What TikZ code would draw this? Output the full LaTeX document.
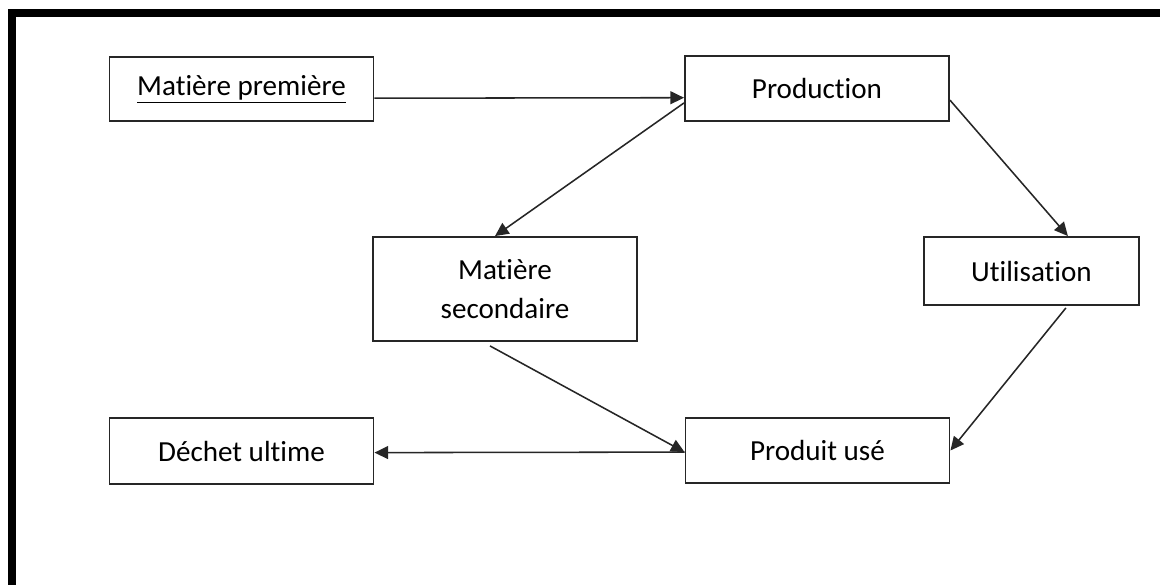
\documentclass[tikz,border=0pt]{standalone}
\usepackage{fontspec}
\setmainfont[Ligatures=NoCommon]{Carlito}
\usetikzlibrary{arrows.meta}

\begin{document}
\begin{tikzpicture}[x=0.025cm,y=-0.025cm,
    box/.style={draw=black!85,line width=1.3pt,minimum width=6.6cm,minimum height=1.62cm,
                inner sep=0pt,align=center,font=\fontsize{20.7}{27.8}\selectfont},
    arr/.style={-{Triangle[length=0.34cm,width=0.32cm]},line width=1.1pt,black!85}]

    \useasboundingbox (0,0) rectangle (1160,585);
    % frame (cut by the picture edge)
    \draw[line width=5.7pt] (12,585) -- (12,13) -- (1160,13);

    \node[box] (mp)   at (241.5,89)  {\underline{Matière première}};
    \node[box] (prod) at (817,88.5)  {Production};
    \node[box,minimum width=5.38cm,minimum height=1.7cm] (util) at (1031.5,271) {Utilisation};
    \node[box,minimum height=2.6cm] (ms) at (505,289) {Matière\\secondaire};
    \node[box] (pu)   at (817.5,450.5) {Produit usé};
    \node[box,minimum height=1.65cm] (du) at (241.5,451) {Déchet ultime};

    \draw[arr] ([yshift=-0.23cm]mp.east) -- ([yshift=-0.23cm]prod.west);
    \draw[arr] ([yshift=-0.29cm]prod.east) -- ([xshift=0.91cm]util.north);
    \draw[arr] ([yshift=-0.36cm]prod.west) -- ([xshift=-0.25cm]ms.north);
    \draw[arr] ([xshift=-0.375cm,yshift=-0.1cm]ms.south) -- ([yshift=-0.04cm]pu.west);
    \draw[arr] ([xshift=0.86cm,yshift=-0.05cm]util.south) -- (pu.east);
    \draw[arr] ([yshift=-0.04cm]pu.west) -- ([yshift=-0.04cm]du.east);
\end{tikzpicture}
\end{document}
